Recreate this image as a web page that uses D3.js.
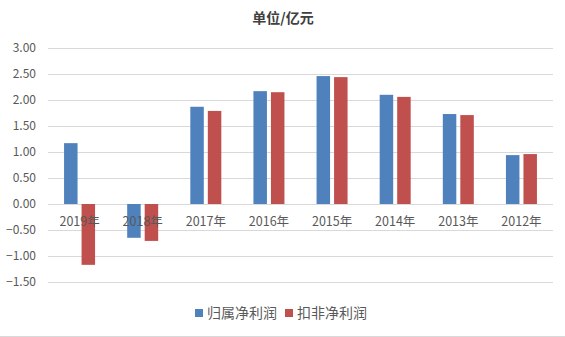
<!DOCTYPE html>
<html>
<head>
<meta charset="utf-8">
<script src="https://cdn.jsdelivr.net/npm/d3@7/dist/d3.min.js"></script>
<style>
  html, body { margin: 0; padding: 0; background: #fff; }
  svg { display: block; }
</style>
</head>
<body>
<svg id="chart" width="565" height="337"></svg>
<script>
// Years shown left to right (most recent first)
const categories = ["2019年", "2018年", "2017年", "2016年", "2015年", "2014年", "2013年", "2012年"];
// Net profit attributable to parent (亿元)
const attributable = [1.17, -0.65, 1.87, 2.17, 2.46, 2.10, 1.73, 0.94];
// Net profit excluding non-recurring items (亿元)
const recurring = [-1.17, -0.71, 1.79, 2.15, 2.44, 2.06, 1.71, 0.96];
const seriesNames = ["归属净利润", "扣非净利润"];
const tickValues = [-1.5, -1.0, -0.5, 0, 0.5, 1.0, 1.5, 2.0, 2.5, 3.0];
const title = "单位/亿元";

const colors = ["#4F81BD", "#C0504D"];
const font = "'Noto Sans CJK SC', 'Noto Sans', sans-serif";

const svg = d3.select("#chart");
const W = 565, H = 337;
const plot = { left: 48, right: 553, top: 48, bottom: 282 };

const x = d3.scaleBand().domain(categories).range([plot.left, plot.right]).padding(0);
const y = d3.scaleLinear().domain([-1.5, 3.0]).range([plot.bottom, plot.top]);

const groupWidth = 31;
const sub = d3.scaleBand().domain(seriesNames).range([-groupWidth / 2, groupWidth / 2]).paddingInner(0.229).paddingOuter(0);

// Title
svg.append("text")
  .attr("x", 283).attr("y", 23)
  .attr("text-anchor", "middle")
  .attr("font-family", font)
  .attr("font-size", 14)
  .attr("font-weight", "bold")
  .attr("fill", "#404040")
  .text(title);

// Horizontal gridlines + value axis labels
const yAxis = d3.axisLeft(y)
  .tickValues(tickValues)
  .tickSize(-(plot.right - plot.left))
  .tickPadding(12)
  .tickFormat(d3.format(".2f"));

const ga = svg.append("g")
  .attr("transform", `translate(${plot.left},0)`)
  .call(yAxis);
ga.select(".domain").remove();
ga.selectAll(".tick line").attr("stroke", "#D9D9D9").attr("stroke-width", 1);
ga.selectAll(".tick text")
  .attr("font-family", font)
  .attr("font-size", 12)
  .attr("fill", "#595959");

// Bars
const rows = categories.map((c, i) => ({ cat: c, vals: [attributable[i], recurring[i]] }));
const groups = svg.append("g").selectAll("g")
  .data(rows).join("g")
  .attr("transform", d => `translate(${x(d.cat) + x.bandwidth() / 2},0)`);

groups.selectAll("rect")
  .data(d => d.vals.map((v, k) => ({ v, k })))
  .join("rect")
  .attr("x", d => sub(seriesNames[d.k]))
  .attr("width", sub.bandwidth())
  .attr("y", d => Math.min(y(d.v), y(0)))
  .attr("height", d => Math.abs(y(d.v) - y(0)))
  .attr("fill", d => colors[d.k]);

// Category labels just under the zero line
const xAxis = d3.axisBottom(x).tickSize(0).tickPadding(13);
const gx = svg.append("g")
  .attr("transform", `translate(0,${y(0)})`)
  .call(xAxis);
gx.select(".domain").remove();
gx.selectAll(".tick text")
  .attr("font-family", font)
  .attr("font-size", 12.5)
  .attr("fill", "#595959");

// Legend
const legend = svg.append("g").attr("transform", "translate(195,313)");
const legendX = [0, 90];
seriesNames.forEach((name, k) => {
  const g = legend.append("g").attr("transform", `translate(${legendX[k]},0)`);
  g.append("rect").attr("x", 0).attr("y", -4).attr("width", 8).attr("height", 8).attr("fill", colors[k]);
  g.append("text")
    .attr("x", 12).attr("y", 5)
    .attr("font-family", font)
    .attr("font-size", 14)
    .attr("fill", "#595959")
    .text(name);
});

// Bottom border of chart area
svg.append("line")
  .attr("x1", 0).attr("x2", W)
  .attr("y1", 336.5).attr("y2", 336.5)
  .attr("stroke", "#D9D9D9");
</script>
</body>
</html>
